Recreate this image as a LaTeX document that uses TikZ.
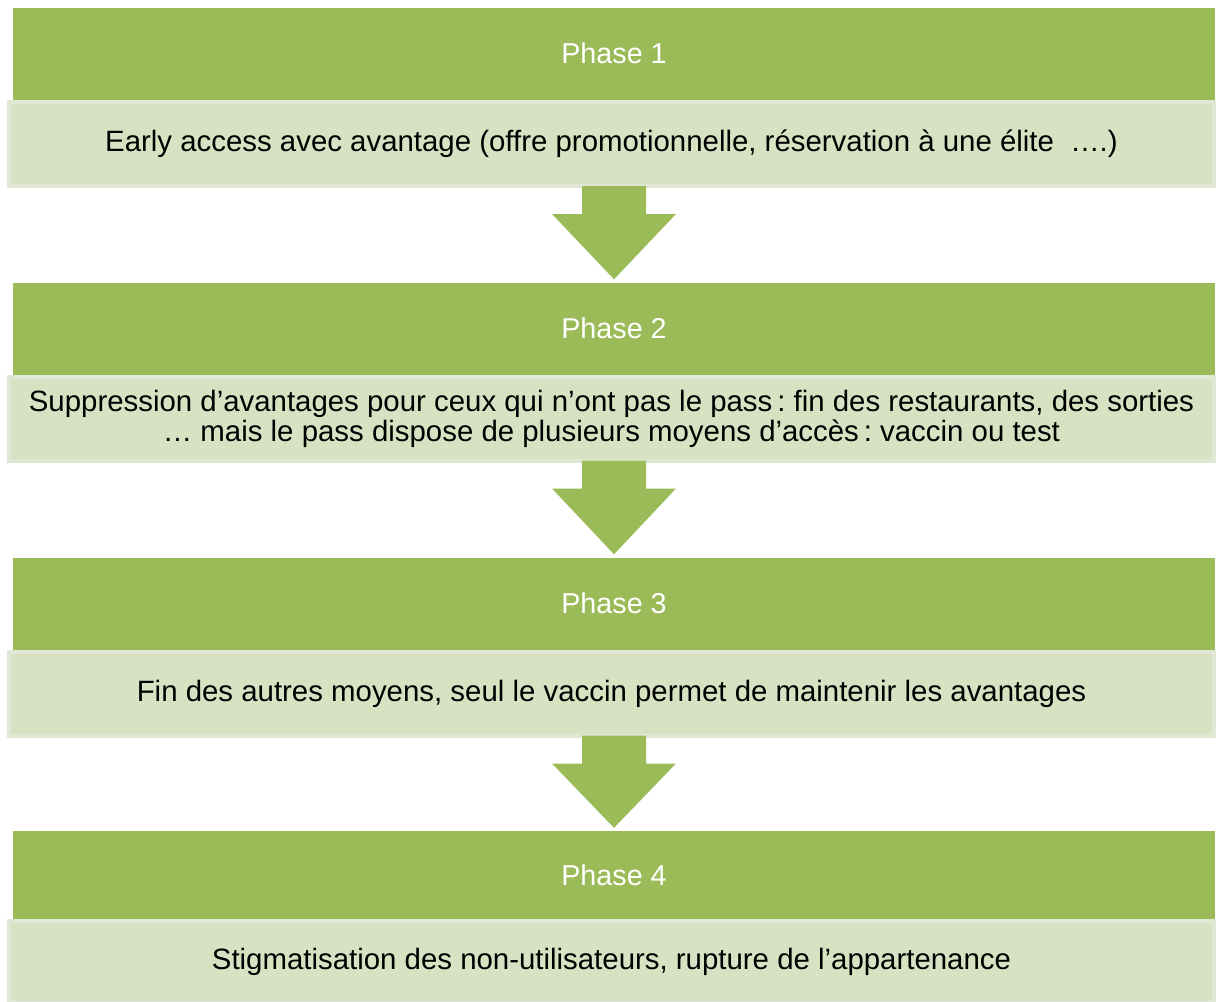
\documentclass[tikz,border=0pt]{standalone}
\usepackage{fontspec}
\usetikzlibrary{calc}
\setmainfont{Liberation Sans}
\frenchspacing
\definecolor{phgreen}{HTML}{9BBB59}
\definecolor{phlight}{HTML}{D7E2C3}
\definecolor{phedge}{HTML}{E0E8D5}
\begin{document}
\begin{tikzpicture}[x=1pt,y=-1pt,
  phasebar/.style={fill=phgreen,draw=none,minimum width=1202pt,minimum height=92pt,inner sep=0pt,text=white,font=\fontsize{28.7}{30}\selectfont},
  detailbox/.style={fill=phlight,draw=phedge,line width=4pt,minimum width=1205pt,minimum height=84pt,inner sep=0pt,text=black,align=center,font=\fontsize{29.4}{30}\selectfont},
  blockarrow/.style={fill=phgreen,draw=none}]
\useasboundingbox (0,0) rectangle (1217,1001);
\node[phasebar] (p1) at (614,53.5) {Phase 1};
\node[detailbox] (d1) at (611.5,144) {Early access avec avantage (offre promotionnelle, réservation à une élite\ \ ….)};
\node[phasebar] (p2) at (614,328.5) {Phase 2};
\node[detailbox] (d2) at (611.5,418.5) {Suppression d’avantages pour ceux qui n’ont pas le pass\,: fin des restaurants, des sorties\\… mais le pass dispose de plusieurs moyens d’accès\,: vaccin ou test};
\node[phasebar] (p3) at (614,603.5) {Phase 3};
\node[detailbox] (d3) at (611.5,693.5) {Fin des autres moyens, seul le vaccin permet de maintenir les avantages};
\node[phasebar,minimum height=88pt] (p4) at (614,875) {Phase 4};
\node[detailbox,minimum height=82pt] (d4) at (611.5,962) {Stigmatisation des non-utilisateurs, rupture de l’appartenance};
\foreach \a/\b in {d1/p2,d2/p3,d3/p4}{
  \coordinate (s) at ($(\a.south)+(2.5,-2)$);
  \coordinate (t) at ($(\b.north)+(0,-3)$);
  \fill[blockarrow] ($(s)+(-32,0)$) -- ($(s)+(-32,28)$) -- ($(s)+(-62,28)$) -- (t) -- ($(s)+(62,28)$) -- ($(s)+(32,28)$) -- ($(s)+(32,0)$) -- cycle;
}
\end{tikzpicture}
\end{document}
